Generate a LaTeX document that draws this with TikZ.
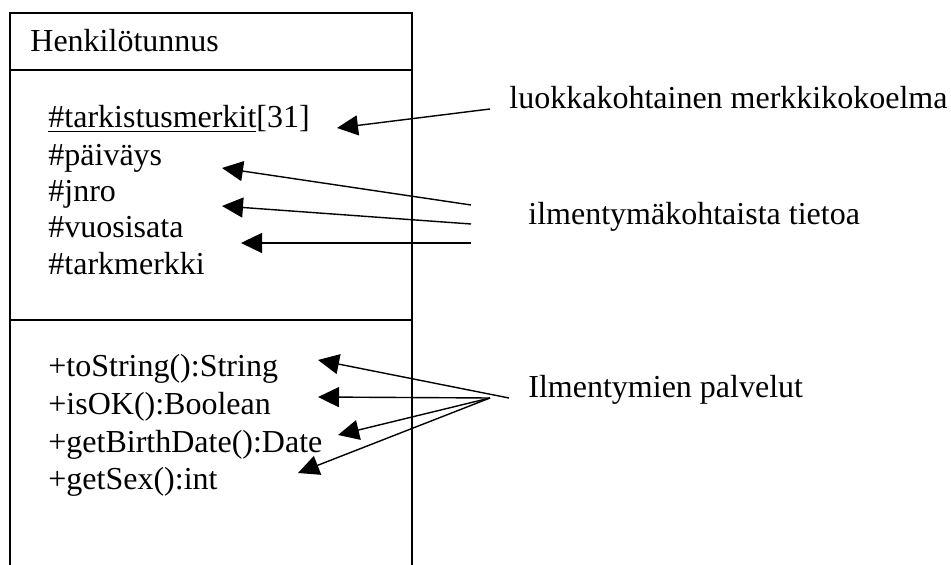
\documentclass[tikz,border=0pt]{standalone}
\usepackage{fontspec}
\setmainfont{Liberation Serif}
\usetikzlibrary{arrows.meta}
\tikzstyle{title} = [anchor=base west, inner sep=0pt]
\tikzstyle{member} = [anchor=base west, inner sep=0pt]
\tikzstyle{note} = [anchor=base west, inner sep=0pt]
\tikzstyle{frame} = [line width=0.9pt]
\tikzstyle{arrow} = [line width=0.7pt,-{Triangle[length=10.5pt,width=10pt]}]

\begin{document}
\begin{tikzpicture}[x=0.5pt, y=-0.5pt, font=\fontsize{16}{18.4}\selectfont]
		\useasboundingbox (0,0) rectangle (951,565);
		% class box, open at the bottom
		\draw [frame] (10,565) -- (10,13) -- (412,13) -- (412,565);
		\draw [frame] (10,70) -- (412,70);
		\draw [frame] (10,320) -- (412,320);
		\node (cls) [title] at (30,52) {Henkilötunnus};
		% attributes
		\node (tark) [member] at (48,128) {\underline{\#tarkistusmerkit}[31]};
		\node (pvm) [member] at (48,166) {\#päiväys};
		\node (jnro) [member] at (48,202) {\#jnro};
		\node (vuosi) [member] at (48,238) {\#vuosisata};
		\node (tmerkki) [member] at (48,275) {\#tarkmerkki};
		% methods
		\node (tostr) [member] at (48,377) {+toString():String};
		\node (isok) [member] at (48,415) {+isOK():Boolean};
		\node (birth) [member] at (48,452) {+getBirthDate():Date};
		\node (sex) [member] at (48,489) {+getSex():int};
		% notes
		\node (luokka) [note] at (509,109) {luokkakohtainen merkkikokoelma};
		\node (ilm) [note] at (528,225) {ilmentymäkohtaista tietoa};
		\node (palv) [note] at (528,398) {Ilmentymien palvelut};
		% arrow ends
		\coordinate (luokka-s) at (490,109);
		\coordinate (tark-t) at (337,128);
		\coordinate (ilm-s1) at (471,205);
		\coordinate (ilm-s2) at (471,224);
		\coordinate (ilm-s3) at (471,243);
		\coordinate (pvm-t) at (222,168);
		\coordinate (jnro-t) at (222,206);
		\coordinate (vuosi-t) at (241,243);
		\coordinate (palv-s1) at (509,398);
		\coordinate (palv-s) at (490,398);
		\coordinate (tostr-t) at (318,360);
		\coordinate (isok-t) at (318,397);
		\coordinate (birth-t) at (338,435);
		\coordinate (sex-t) at (298,473);
		\draw [arrow] (luokka-s) -- (tark-t);
		\draw [arrow] (ilm-s1) -- (pvm-t);
		\draw [arrow] (ilm-s2) -- (jnro-t);
		\draw [arrow] (ilm-s3) -- (vuosi-t);
		\draw [arrow] (palv-s1) -- (tostr-t);
		\draw [arrow] (palv-s) -- (isok-t);
		\draw [arrow] (palv-s) -- (birth-t);
		\draw [arrow] (palv-s) -- (sex-t);
	\end{tikzpicture}
\end{document}
